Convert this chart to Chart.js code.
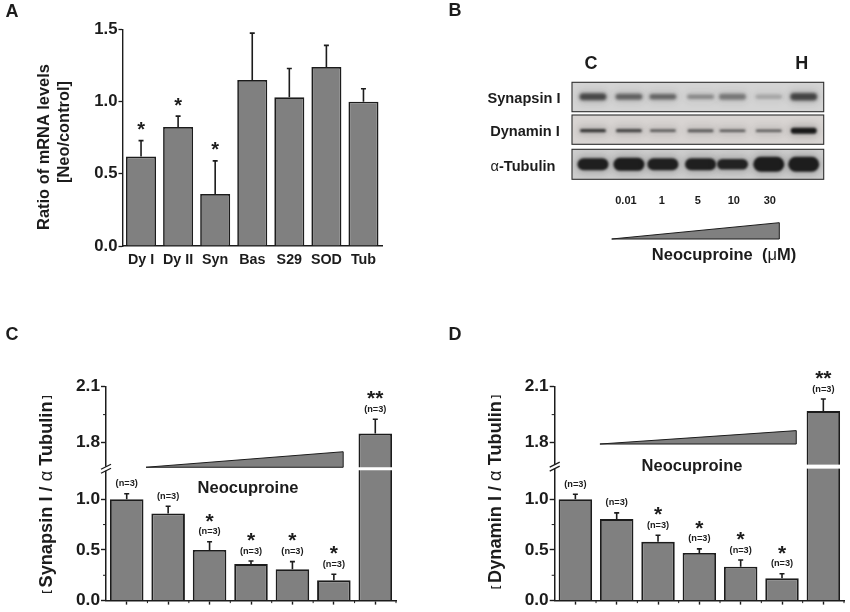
<!DOCTYPE html>
<html>
<head>
<meta charset="utf-8">
<script src="https://cdn.jsdelivr.net/npm/chart.js@4/dist/chart.umd.js"></script>
<style>
  body { margin: 0; background: #fff; }
  canvas { position: absolute; }
</style>
</head>
<body>
<canvas id="panelA" width="430" height="320" style="left:0;top:0"></canvas>
<canvas id="panelB" width="420" height="320" style="left:430px;top:0"></canvas>
<canvas id="panelC" width="430" height="292" style="left:0;top:320px"></canvas>
<canvas id="panelD" width="420" height="292" style="left:430px;top:320px"></canvas>
<script>
// panel A
const mrnaLabels = ["Dy I", "Dy II", "Syn", "Bas", "S29", "SOD", "Tub"];
const mrnaValues = [0.62, 0.825, 0.36, 1.15, 1.03, 1.24, 1.0];
const mrnaErrTops = [0.73, 0.90, 0.59, 1.475, 1.23, 1.39, 1.09];
const mrnaStars = ["*", "*", "*", "", "", "", ""];
const mrnaTicks = [0, 0.5, 1.0, 1.5];

// panel B
const laneNames = ["C", "0.01", "1", "5", "10", "30", "H"];
const synapsinBands = [0.72, 0.58, 0.56, 0.38, 0.46, 0.22, 0.74];
const dynaminBands = [0.82, 0.74, 0.6, 0.62, 0.62, 0.6, 1.0];
const tubulinBands = [0.96, 0.98, 0.96, 0.96, 0.94, 0.98, 0.98];
const synapsinThickness = [7, 6, 5.5, 4.5, 6, 4.5, 7.5];
const dynaminThickness = [3.2, 3.2, 2.8, 3, 2.4, 2.4, 6];
const tubulinThickness = [12, 13, 12, 12, 10.5, 15, 15];

// panels C and D
const doseLabels = ["", "", "", "", "", "", ""];
const synapsinValues = [1.0, 0.86, 0.5, 0.36, 0.31, 0.2, 1.848];
const synapsinErrTops = [1.078, 0.93, 0.58, 0.39, 0.385, 0.26, 1.925];
const dynaminValues = [1.0, 0.805, 0.58, 0.47, 0.335, 0.22, 1.969];
const dynaminErrTops = [1.07, 0.865, 0.645, 0.51, 0.40, 0.265, 2.034];
const doseStars = ["", "", "*", "*", "*", "*", "**"];
const brokenTicks = [0, 0.5, 1.0, 1.8, 2.1];
const brokenMinorTicks = [0.25, 0.75, 1.95];

const INK = "#1c1c1c";
const BAR_GREY = "#808080";
const SANS = "'Liberation Sans', Arial, sans-serif";

Chart.defaults.animation = false;
Chart.defaults.font.family = SANS;

// y axis with a jump between 1.0 and 1.8
class BrokenScale extends Chart.LinearScale {
  getPixelForValue(value) {
    const k = this.options.knots;
    let i = 0;
    while (i < k.length - 2 && value > k[i + 1][0]) i++;
    const t = (value - k[i][0]) / (k[i + 1][0] - k[i][0]);
    return this.getPixelForDecimal(k[i][1] + t * (k[i + 1][1] - k[i][1]));
  }
}
BrokenScale.id = "broken";
BrokenScale.defaults = {};
Chart.register(BrokenScale);

function drawRuns(ctx, runs, x, y, vertical) {
  // runs of [text, font], centred on x,y
  ctx.save();
  ctx.translate(x, y);
  if (vertical) ctx.rotate(-Math.PI / 2);
  ctx.textBaseline = "middle";
  ctx.textAlign = "left";
  ctx.fillStyle = INK;
  let total = 0;
  runs.forEach(r => { ctx.font = r[1]; total += ctx.measureText(r[0]).width; });
  let pos = -total / 2;
  runs.forEach(r => {
    ctx.font = r[1];
    ctx.fillText(r[0], pos, 0);
    pos += ctx.measureText(r[0]).width;
  });
  ctx.restore();
}

function drawText(ctx, text, x, y, font) {
  drawRuns(ctx, [[text, font]], x, y, false);
}

function drawWedge(ctx, x0, x1, yBase, yTip) {
  ctx.beginPath();
  ctx.moveTo(x0, yBase);
  ctx.lineTo(x1, yBase);
  ctx.lineTo(x1, yTip);
  ctx.closePath();
  ctx.fillStyle = BAR_GREY;
  ctx.fill();
  ctx.strokeStyle = INK;
  ctx.lineWidth = 1;
  ctx.stroke();
}

const errorBars = {
  id: "errorBars",
  afterDatasetsDraw(chart, args, opts) {
    const { ctx, scales: { x, y } } = chart;
    ctx.save();
    ctx.strokeStyle = INK;
    ctx.lineWidth = 1.6;
    opts.tops.forEach((top, i) => {
      const px = x.getPixelForValue(i);
      const yTop = y.getPixelForValue(top);
      ctx.beginPath();
      ctx.moveTo(px, y.getPixelForValue(opts.values[i]));
      ctx.lineTo(px, yTop);
      ctx.moveTo(px - 2.5, yTop);
      ctx.lineTo(px + 2.5, yTop);
      ctx.stroke();
    });
    ctx.restore();
  }
};

const panelNotes = {
  id: "panelNotes",
  afterDraw(chart, args, opts) {
    opts.draw(chart, chart.ctx);
  }
};

function barOptions(extra) {
  return {
    responsive: false,
    devicePixelRatio: 1,
    layout: { padding: extra.padding },
    plugins: {
      legend: { display: false },
      tooltip: { enabled: false },
      errorBars: { values: extra.values, tops: extra.tops },
      panelNotes: { draw: extra.draw }
    },
    scales: { x: extra.x, y: extra.y }
  };
}

function barData(labels, values, width) {
  return {
    labels: labels,
    datasets: [{
      data: values,
      backgroundColor: BAR_GREY,
      borderColor: INK,
      borderWidth: width,
      categoryPercentage: 1,
      barPercentage: 0.81
    }]
  };
}

// panel A
new Chart(document.getElementById("panelA"), {
  type: "bar",
  data: barData(mrnaLabels, mrnaValues, 1.7),
  plugins: [errorBars, panelNotes],
  options: barOptions({
    padding: { top: 29.5, right: 48 },
    values: mrnaValues,
    tops: mrnaErrTops,
    x: {
      afterFit: s => { s.height = 74; },
      grid: { drawOnChartArea: false, drawTicks: false, offset: false },
      border: { color: INK, width: 1.4 },
      ticks: { color: INK, padding: 5, font: { size: 14.3, weight: "bold" }, maxRotation: 0, autoSkip: false }
    },
    y: {
      min: 0,
      max: 1.5,
      afterFit: s => { s.width = 122.5; },
      afterBuildTicks: s => { s.ticks = mrnaTicks.map(v => ({ value: v })); },
      grid: { drawOnChartArea: false, tickLength: 4, color: INK, tickWidth: 1.3 },
      border: { color: INK, width: 1.4 },
      ticks: { color: INK, padding: 1, font: { size: 16.7, weight: "bold" }, callback: v => v.toFixed(1) }
    },
    draw(chart, ctx) {
      const { x, y } = chart.scales;
      const bold = "bold 16.4px " + SANS;
      drawText(ctx, "A", 12, 12, "bold 18px " + SANS);
      drawRuns(ctx, [["Ratio of mRNA levels", bold]], 44, 147, true);
      drawRuns(ctx, [["[Neo/control]", bold]], 64, 132, true);
      mrnaStars.forEach((s, i) => {
        if (s) drawText(ctx, s, x.getPixelForValue(i), y.getPixelForValue(mrnaErrTops[i]) - 10, "bold 20px " + SANS);
      });
    }
  })
});

// panel B, lanes on the x axis and rows as blot strips
const bandShift = [3, 3, 1, 2.7, -1.3, -1, -2];
const blotRows = [
  { name: [["Synapsin I", "bold 14.6px " + SANS]], bands: synapsinBands, thick: synapsinThickness, top: 0, bottom: 29.4, centre: 14.4, width: 27, blur: 1.8, grey: "#d4d4d4", labelX: 524, labelY: 98.7 },
  { name: [["Dynamin I", "bold 14.6px " + SANS]], bands: dynaminBands, thick: dynaminThickness, top: 32.7, bottom: 62, centre: 48.4, width: 26, blur: 1, grey: "#d8d4d2", labelX: 525, labelY: 131.7 },
  { name: [["\u03b1", "14.6px " + SANS], ["-Tubulin", "bold 14.6px " + SANS]], bands: tubulinBands, thick: tubulinThickness, top: 67, bottom: 97, centre: 82, width: 31, blur: 1.2, grey: "#cdcdcd", labelX: 523, labelY: 167 }
];

function drawBand(ctx, px, py, w, h, alpha, blur) {
  ctx.filter = "blur(" + blur + "px)";
  ctx.fillStyle = "rgba(25,25,25," + alpha + ")";
  ctx.beginPath();
  ctx.roundRect(px - w / 2, py - h / 2, w, h, h / 2);
  ctx.fill();
}

new Chart(document.getElementById("panelB"), {
  type: "line",
  data: {
    labels: laneNames,
    datasets: blotRows.map(r => ({
      data: r.bands.map(() => r.centre),
      showLine: false,
      pointRadius: 0
    }))
  },
  plugins: [panelNotes],
  options: {
    responsive: false,
    devicePixelRatio: 1,
    layout: { padding: { left: 142, right: 420 - 393.7, top: 82.3, bottom: 320 - 179.3 } },
    plugins: {
      legend: { display: false },
      tooltip: { enabled: false },
      panelNotes: {
        draw(chart, ctx) {
          const { x, y } = chart.scales;
          const area = chart.chartArea;
          drawText(ctx, "B", 25, 11, "bold 18px " + SANS);
          blotRows.forEach(row => {
            const top = y.getPixelForValue(row.top);
            const bottom = y.getPixelForValue(row.bottom);
            ctx.save();
            ctx.fillStyle = row.grey;
            ctx.fillRect(area.left, top, area.width, bottom - top);
            ctx.beginPath();
            ctx.rect(area.left, top, area.width, bottom - top);
            ctx.clip();
            row.bands.forEach((d, i) => {
              const px = x.getPixelForValue(i) + bandShift[i];
              const py = y.getPixelForValue(row.centre);
              drawBand(ctx, px, py, row.width + 5, row.thick[i] + 7, d * 0.18, 3);
              drawBand(ctx, px, py, row.width, row.thick[i], d, row.blur);
            });
            ctx.restore();
            ctx.strokeStyle = "#2e2e2e";
            ctx.lineWidth = 1.1;
            ctx.strokeRect(area.left, top, area.width, bottom - top);
            drawRuns(ctx, row.name, row.labelX - 430, row.labelY, false);
          });
          laneNames.forEach((name, i) => {
            const edge = i === 0 || i === laneNames.length - 1;
            if (edge) drawText(ctx, name, x.getPixelForValue(i) + bandShift[i] - 2, 64, "bold 18px " + SANS);
            else drawText(ctx, name, x.getPixelForValue(i), 201, "bold 11px " + SANS);
          });
          drawWedge(ctx, 181.7, 349.3, 239, 222.7);
          drawRuns(ctx, [
            ["Neocuproine  (", "bold 16.5px " + SANS],
            ["\u03bc", "16.5px " + SANS],
            ["M)", "bold 16.5px " + SANS]
          ], 294, 255, false);
        }
      }
    },
    scales: {
      x: { display: false, offset: true },
      y: { display: false, reverse: true, min: 0, max: 97 }
    }
  }
});

function brokenPanel(id, letter, title, values, tops, cfg) {
  new Chart(document.getElementById(id), {
    type: "bar",
    data: barData(doseLabels, values, 1.9),
    plugins: [errorBars, panelNotes],
    options: barOptions({
      padding: { top: 66.7, right: cfg.right },
      values: values,
      tops: tops,
      x: {
        afterFit: s => { s.height = cfg.below; },
        grid: { drawOnChartArea: false, tickLength: 4, color: INK, tickWidth: 1.4, offset: false },
        border: { color: INK, width: 1.5 },
        ticks: { display: true, padding: 0, autoSkip: false }
      },
      y: {
        type: "broken",
        min: 0,
        max: 2.1,
        knots: [[0, 0], [1.0, 0.474], [1.8, 0.739], [2.1, 1]],
        afterFit: s => { s.width = cfg.axisX; },
        afterBuildTicks: s => { s.ticks = brokenTicks.map(v => ({ value: v })); },
        grid: { drawOnChartArea: false, tickLength: 5, color: INK, tickWidth: 1.4 },
        border: { color: INK, width: 1.5 },
        ticks: { color: INK, padding: 1, autoSkip: false, font: { size: 17.3, weight: "bold" }, callback: v => v.toFixed(1) }
      },
      draw(chart, ctx) {
        const { x, y } = chart.scales;
        const last = values.length - 1;
        const bold = "bold 18.2px " + SANS;
        const small = "bold 9.2px " + SANS;

        drawText(ctx, letter, cfg.letterX, 15, "bold 18px " + SANS);
        drawRuns(ctx, [
          ["[ ", "bold 10px " + SANS], [title[0], bold], ["\u03b1", "18.2px " + SANS],
          [title[1], bold], [" ]", "bold 10px " + SANS]
        ], cfg.titleX, cfg.titleY, true);

        // minor ticks, y between labels and x between bars
        ctx.strokeStyle = INK;
        ctx.lineWidth = 1;
        brokenMinorTicks.forEach(v => {
          const py = y.getPixelForValue(v);
          ctx.beginPath();
          ctx.moveTo(cfg.axisX - 3, py);
          ctx.lineTo(cfg.axisX, py);
          ctx.stroke();
        });
        const pitch = x.width / values.length;
        values.forEach((v, i) => {
          const px = x.getPixelForValue(i) + pitch / 2;
          ctx.beginPath();
          ctx.moveTo(px, y.bottom);
          ctx.lineTo(px, y.bottom + 2.5);
          ctx.stroke();
        });

        // the break in the axis and in the tallest bar
        const gapY = y.getPixelForValue(cfg.gapValue);
        const bar = chart.getDatasetMeta(0).data[last];
        ctx.fillStyle = "#fff";
        ctx.fillRect(bar.x - bar.width / 2 - 2, gapY - cfg.gap / 2, bar.width + 4, cfg.gap);
        ctx.fillRect(cfg.axisX - 3, gapY - 2, 6, 4);
        ctx.strokeStyle = INK;
        ctx.lineWidth = 1.3;
        [-2, 2].forEach(d => {
          ctx.beginPath();
          ctx.moveTo(cfg.axisX - 5, gapY + d + 2.5);
          ctx.lineTo(cfg.axisX + 5, gapY + d - 2.5);
          ctx.stroke();
        });

        drawWedge(ctx, x.getPixelForValue(cfg.wedge[0]), x.getPixelForValue(cfg.wedge[1]),
          y.getPixelForValue(cfg.wedge[2]), y.getPixelForValue(cfg.wedge[3]));
        drawText(ctx, "Neocuproine", cfg.neoX, cfg.neoY, "bold 16.5px " + SANS);

        tops.forEach((top, i) => {
          const px = x.getPixelForValue(i);
          const py = y.getPixelForValue(top);
          drawText(ctx, "(n=3)", px, py - 10, small);
          if (doseStars[i]) drawText(ctx, doseStars[i], px, py - 20, "bold 21px " + SANS);
        });
      }
    })
  });
}

brokenPanel("panelC", "C", ["Synapsin I / ", " Tubulin"], synapsinValues, synapsinErrTops, {
  axisX: 106, right: 34, below: 9.3, letterX: 12, titleX: 47, titleY: 174.5,
  gapValue: 1.43, gap: 3, wedge: [0.466, 5.225, 1.451, 1.67], neoX: 248, neoY: 168.5
});

brokenPanel("panelD", "D", ["Dynamin I / ", " Tubulin"], dynaminValues, dynaminErrTops, {
  axisX: 124.7, right: 6, below: 10, letterX: 25, titleX: 66, titleY: 172,
  gapValue: 1.46, gap: 4, wedge: [0.594, 5.345, 1.779, 1.864], neoX: 262, neoY: 146.5
});
</script>
</body>
</html>
